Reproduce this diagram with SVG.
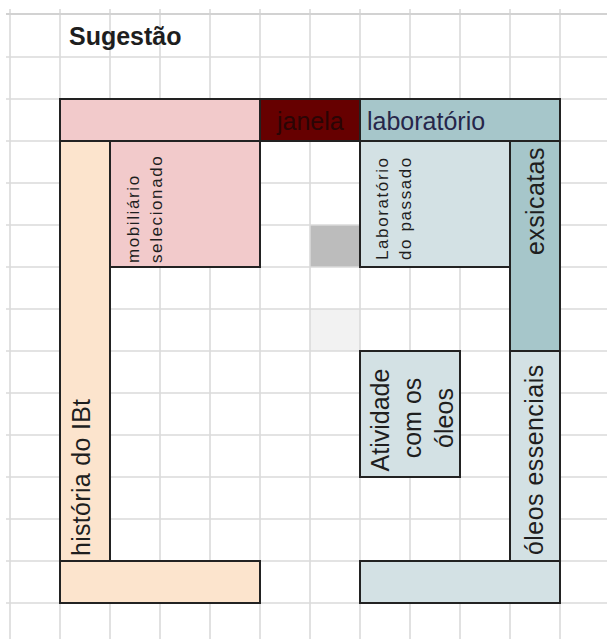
<svg xmlns="http://www.w3.org/2000/svg" width="607" height="639" viewBox="0 0 607 639">
<style>
.grid line{stroke:#dadada;stroke-width:1.6}
.box{stroke:#222;stroke-width:2}
.pink{fill:#f2cacb}
.peach{fill:#fce4cd}
.teal{fill:#a6c6ca}
.lblue{fill:#d3e1e4}
.t{font-family:"Liberation Sans",Arial,sans-serif;fill:#1e1e1e}
.big{font-size:25px}
.small{font-size:17px;letter-spacing:1.6px}
</style>
<rect width="607" height="639" fill="#ffffff"/>
<g id="shaded-cells">
<rect x="310" y="225" width="50" height="42" fill="#bcbcbc"/>
<rect x="310" y="309" width="50" height="42" fill="#f2f2f2"/>
</g>
<g class="grid" id="grid">
<line x1="10" y1="9" x2="10" y2="639"/>
<line x1="60" y1="9" x2="60" y2="639"/>
<line x1="110" y1="9" x2="110" y2="639"/>
<line x1="160" y1="9" x2="160" y2="639"/>
<line x1="210" y1="9" x2="210" y2="639"/>
<line x1="260" y1="9" x2="260" y2="639"/>
<line x1="310" y1="9" x2="310" y2="639"/>
<line x1="360" y1="9" x2="360" y2="639"/>
<line x1="410" y1="9" x2="410" y2="639"/>
<line x1="460" y1="9" x2="460" y2="639"/>
<line x1="510" y1="9" x2="510" y2="639"/>
<line x1="560" y1="9" x2="560" y2="639"/>
<line x1="6" y1="14" x2="607" y2="14" style="stroke:#d2d2d2;stroke-width:2"/>
<line x1="6" y1="57" x2="607" y2="57"/>
<line x1="6" y1="99" x2="607" y2="99"/>
<line x1="6" y1="141" x2="607" y2="141"/>
<line x1="6" y1="183" x2="607" y2="183"/>
<line x1="6" y1="225" x2="607" y2="225"/>
<line x1="6" y1="267" x2="607" y2="267"/>
<line x1="6" y1="309" x2="607" y2="309"/>
<line x1="6" y1="351" x2="607" y2="351"/>
<line x1="6" y1="393" x2="607" y2="393"/>
<line x1="6" y1="435" x2="607" y2="435"/>
<line x1="6" y1="477" x2="607" y2="477"/>
<line x1="6" y1="519" x2="607" y2="519"/>
<line x1="6" y1="561" x2="607" y2="561"/>
<line x1="6" y1="603" x2="607" y2="603"/>
</g>
<g id="title">
<text class="t" x="69" y="45" font-size="25" font-weight="bold" fill="#151515">Sugestão</text>
</g>
<g id="pink-top">
<rect class="box pink" x="60" y="99" width="200" height="42"/>
</g>
<g id="janela">
<rect class="box" x="260" y="99" width="100" height="42" fill="#660000"/>
<text class="t big" x="277" y="130" style="fill:#2a0505">janela</text>
</g>
<g id="laboratorio">
<rect class="box teal" x="360" y="99" width="200" height="42"/>
<text class="t big" x="367" y="130" style="fill:#26264a">laboratório</text>
</g>
<g id="historia">
<rect class="box peach" x="60" y="141" width="50" height="420"/>
<text class="t big" transform="translate(90,556) rotate(-90)" letter-spacing="0.3">história do IBt</text>
</g>
<g id="peach-bottom">
<rect class="box peach" x="60" y="561" width="200" height="42"/>
</g>
<g id="mobiliario">
<rect class="box pink" x="110" y="141" width="150" height="126"/>
<text class="t small" transform="translate(139,263) rotate(-90)">mobiliário</text>
<text class="t small" transform="translate(162,263) rotate(-90)">selecionado</text>
</g>
<g id="laboratorio-passado">
<rect class="box lblue" x="360" y="141" width="150" height="126"/>
<text class="t small" transform="translate(388,260) rotate(-90)">Laboratório</text>
<text class="t small" transform="translate(411,260) rotate(-90)">do passado</text>
</g>
<g id="exsicatas">
<rect class="box teal" x="510" y="141" width="50" height="210"/>
<text class="t big" transform="translate(544,255) rotate(-90)" letter-spacing="0.4">exsicatas</text>
</g>
<g id="oleos-essenciais">
<rect class="box lblue" x="510" y="351" width="50" height="210"/>
<text class="t big" transform="translate(543,555) rotate(-90)" letter-spacing="0.45">óleos essenciais</text>
</g>
<g id="atividade">
<rect class="box lblue" x="360" y="351" width="100" height="126"/>
<text class="t big" text-anchor="middle" transform="translate(389,420) rotate(-90)">Atividade</text>
<text class="t big" text-anchor="middle" transform="translate(421,418) rotate(-90)">com os</text>
<text class="t big" text-anchor="middle" transform="translate(453,418) rotate(-90)">óleos</text>
</g>
<g id="lblue-bottom">
<rect class="box lblue" x="360" y="561" width="200" height="42"/>
</g>
<g id="connectors"/>
</svg>
